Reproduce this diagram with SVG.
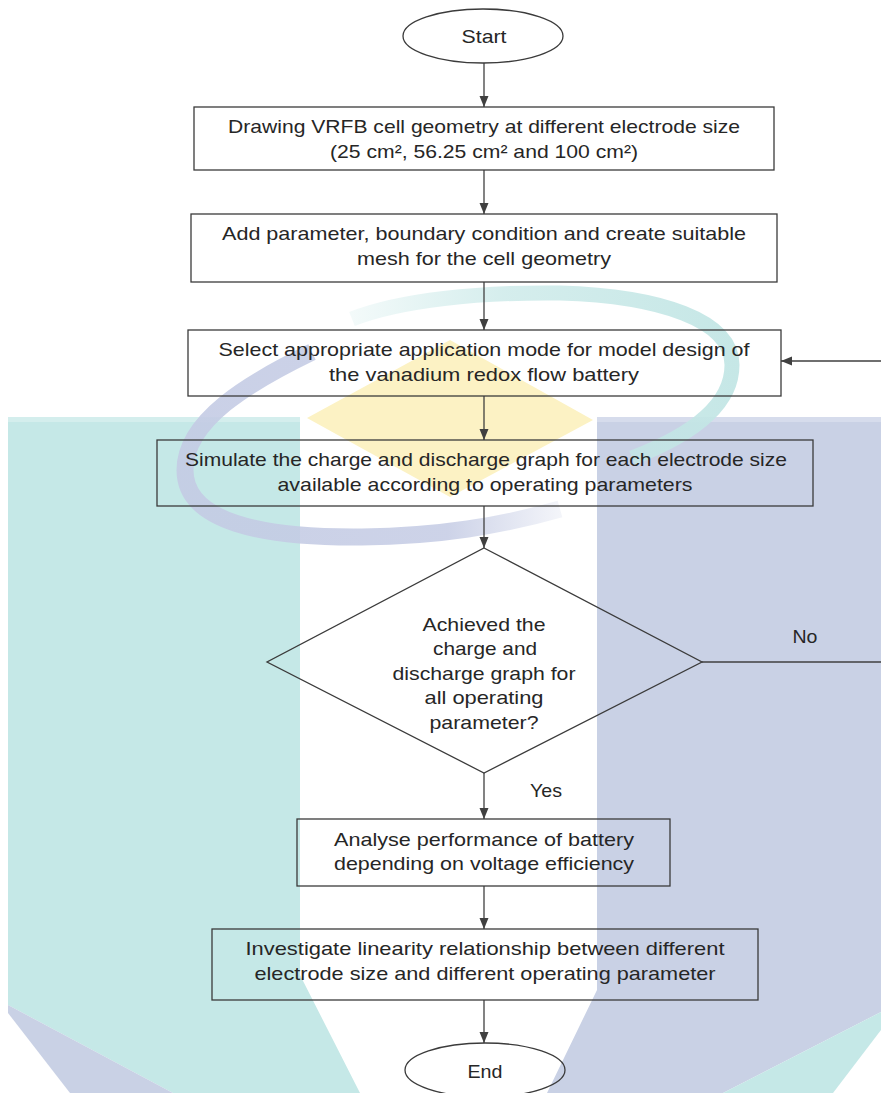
<svg xmlns="http://www.w3.org/2000/svg" width="881" height="1093" viewBox="0 0 881 1093">
<style>
  .node { fill: none; stroke: #3b3b3b; stroke-width: 1.3; }
  .lbl { font-family: "Liberation Sans", Arial, sans-serif; font-size: 19px; fill: #262626; text-anchor: middle; }
  .conn { fill: none; stroke: #404040; stroke-width: 1.3; }
  .wm-teal { fill: #c5e8e7; }
  .wm-lav { fill: #c9d1e5; }
</style>
<defs>
  <marker id="arrow" markerWidth="11" markerHeight="10" refX="11" refY="5" orient="auto" markerUnits="userSpaceOnUse">
    <path d="M0,0.5 L11,5 L0,9.5 Z" fill="#404040"/>
  </marker>
  <linearGradient id="lavFade" x1="185" y1="0" x2="560" y2="0" gradientUnits="userSpaceOnUse">
    <stop offset="0" stop-color="#c4cbe4" stop-opacity="0.9"/>
    <stop offset="0.7" stop-color="#c4cbe4" stop-opacity="0.85"/>
    <stop offset="1" stop-color="#c4cbe4" stop-opacity="0.2"/>
  </linearGradient>
  <linearGradient id="tealFade" x1="352" y1="0" x2="732" y2="0" gradientUnits="userSpaceOnUse">
    <stop offset="0" stop-color="#c3e6e5" stop-opacity="0.2"/>
    <stop offset="0.4" stop-color="#c3e6e5" stop-opacity="0.7"/>
    <stop offset="1" stop-color="#c3e6e5" stop-opacity="0.95"/>
  </linearGradient>
</defs>
<rect width="881" height="1093" fill="#ffffff"/>
<g id="watermark">
  <polygon class="wm-teal" points="8,417 300,417 300,975 360,1093 173,1093 8,1005"/>
  <polygon class="wm-lav" points="8,1005 173,1093 70,1093 8,1013"/>
  <polygon class="wm-lav" points="597,417 881,417 881,1012 723,1093 547,1093 597,990"/>
  <polygon class="wm-teal" points="723,1093 881,1012 881,1030 833,1093"/>
  <rect x="8" y="417" width="292" height="5" fill="#d4eeed"/>
  <rect x="597" y="417" width="284" height="5" fill="#d6dcec"/>
  <polygon points="450,340 593,420 450,497 307,418" fill="#fcf2c4"/>
  <path d="M312,352 C250,382 185,420 185,470 C185,522 262,538 362,537 C440,536 500,526 560,509" fill="none" stroke="url(#lavFade)" stroke-width="17"/>
  <path d="M352,319 C400,300 480,292 560,293 C660,296 732,320 732,365 C732,405 692,435 632,458" fill="none" stroke="url(#tealFade)" stroke-width="15"/>
</g>
<g id="connectors">
  <line class="conn" x1="484" y1="63" x2="484" y2="107" marker-end="url(#arrow)"/>
  <line class="conn" x1="484" y1="170" x2="484" y2="214" marker-end="url(#arrow)"/>
  <line class="conn" x1="484" y1="282" x2="484" y2="330" marker-end="url(#arrow)"/>
  <line class="conn" x1="484" y1="396" x2="484" y2="440" marker-end="url(#arrow)"/>
  <line class="conn" x1="484" y1="506" x2="484" y2="548" marker-end="url(#arrow)"/>
  <line class="conn" x1="484" y1="773" x2="484" y2="819" marker-end="url(#arrow)"/>
  <line class="conn" x1="484" y1="886" x2="484" y2="929" marker-end="url(#arrow)"/>
  <line class="conn" x1="484" y1="1000" x2="484" y2="1043" marker-end="url(#arrow)"/>
  <polyline class="conn" points="702,662 882,662 882,361 781,361" marker-end="url(#arrow)"/>
  <text class="lbl" x="805" y="643" textLength="25" lengthAdjust="spacingAndGlyphs">No</text>
  <text class="lbl" x="546" y="797" textLength="32" lengthAdjust="spacingAndGlyphs">Yes</text>
</g>
<g id="start">
  <ellipse class="node" cx="483" cy="36" rx="80" ry="27"/>
  <text class="lbl" x="484" y="43" textLength="45" lengthAdjust="spacingAndGlyphs">Start</text>
</g>
<g id="draw-geometry">
  <rect class="node" x="194" y="107" width="580" height="63"/>
  <text class="lbl" x="484" y="133" textLength="512" lengthAdjust="spacingAndGlyphs">Drawing VRFB cell geometry at different electrode size</text>
  <text class="lbl" x="484" y="158" textLength="308" lengthAdjust="spacingAndGlyphs">(25 cm², 56.25 cm² and 100 cm²)</text>
</g>
<g id="add-parameter">
  <rect class="node" x="191" y="214" width="586" height="68"/>
  <text class="lbl" x="484" y="240" textLength="524" lengthAdjust="spacingAndGlyphs">Add parameter, boundary condition and create suitable</text>
  <text class="lbl" x="484" y="265" textLength="254" lengthAdjust="spacingAndGlyphs">mesh for the cell geometry</text>
</g>
<g id="select-mode">
  <rect class="node" x="188" y="330" width="593" height="66"/>
  <text class="lbl" x="484" y="356" textLength="531" lengthAdjust="spacingAndGlyphs">Select appropriate application mode for model design of</text>
  <text class="lbl" x="484" y="381" textLength="310" lengthAdjust="spacingAndGlyphs">the vanadium redox flow battery</text>
</g>
<g id="simulate">
  <rect class="node" x="157" y="440" width="656" height="66"/>
  <text class="lbl" x="486" y="466" textLength="602" lengthAdjust="spacingAndGlyphs">Simulate the charge and discharge graph for each electrode size</text>
  <text class="lbl" x="485" y="491" textLength="415" lengthAdjust="spacingAndGlyphs">available according to operating parameters</text>
</g>
<g id="decision">
  <polygon class="node" points="484,548 702,662 484,773 267,662"/>
  <text class="lbl" x="484" y="631" textLength="123" lengthAdjust="spacingAndGlyphs">Achieved the</text>
  <text class="lbl" x="485" y="655" textLength="104" lengthAdjust="spacingAndGlyphs">charge and</text>
  <text class="lbl" x="484" y="680" textLength="183" lengthAdjust="spacingAndGlyphs">discharge graph for</text>
  <text class="lbl" x="484" y="704" textLength="119" lengthAdjust="spacingAndGlyphs">all operating</text>
  <text class="lbl" x="484" y="729" textLength="109" lengthAdjust="spacingAndGlyphs">parameter?</text>
</g>
<g id="analyse">
  <rect class="node" x="297" y="819" width="373" height="67"/>
  <text class="lbl" x="484" y="846" textLength="300" lengthAdjust="spacingAndGlyphs">Analyse performance of battery</text>
  <text class="lbl" x="484" y="870" textLength="300" lengthAdjust="spacingAndGlyphs">depending on voltage efficiency</text>
</g>
<g id="investigate">
  <rect class="node" x="212" y="929" width="546" height="71"/>
  <text class="lbl" x="485" y="955" textLength="479" lengthAdjust="spacingAndGlyphs">Investigate linearity relationship between different</text>
  <text class="lbl" x="485" y="980" textLength="461" lengthAdjust="spacingAndGlyphs">electrode size and different operating parameter</text>
</g>
<g id="end">
  <ellipse class="node" cx="485" cy="1070" rx="80" ry="27"/>
  <text class="lbl" x="485" y="1078" textLength="35" lengthAdjust="spacingAndGlyphs">End</text>
</g>
</svg>
